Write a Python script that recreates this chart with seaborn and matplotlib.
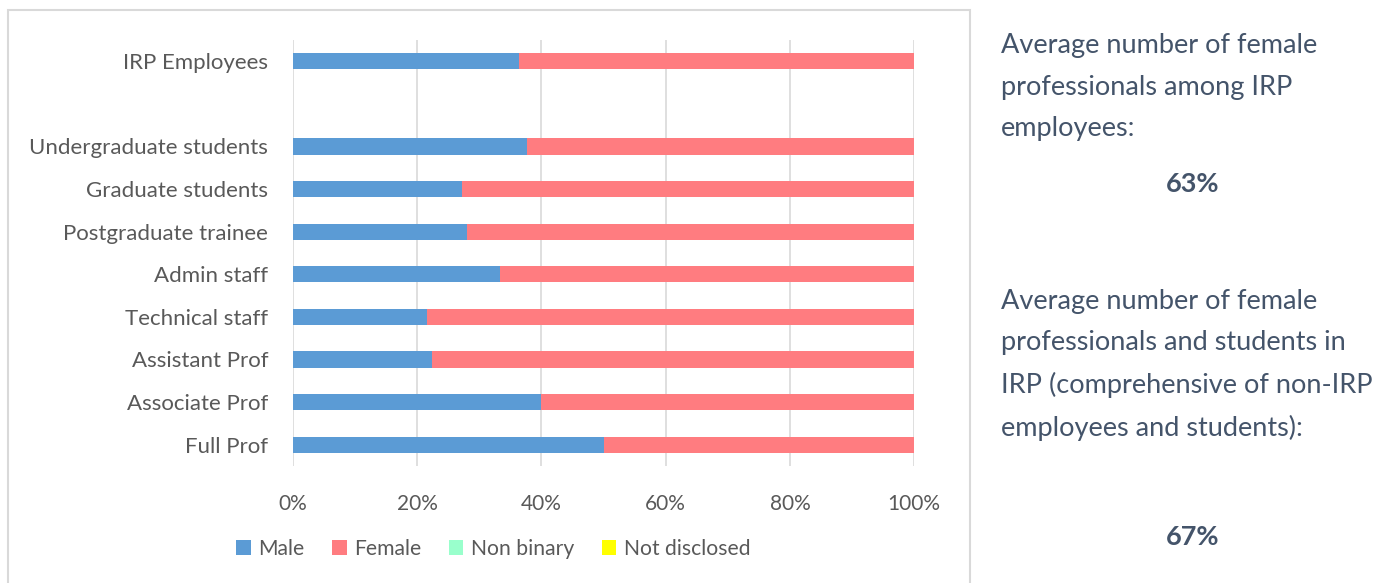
import pandas as pd
import numpy as np
import matplotlib.pyplot as plt
import seaborn as sns
from matplotlib.patches import Patch, Rectangle

# Data (percent of each group)
categories = ['IRP Employees', ' ', 'Undergraduate students', 'Graduate students',
              'Postgraduate trainee', 'Admin staff', 'Technical staff',
              'Assistant Prof', 'Associate Prof', 'Full Prof']
male = [36.4, 0, 37.7, 27.2, 28.0, 33.3, 21.6, 22.4, 40.0, 50.0]
female = [63.6, 0, 62.3, 72.8, 72.0, 66.7, 78.4, 77.6, 60.0, 50.0]
non_binary = [0, 0, 0, 0, 0, 0, 0, 0, 0, 0]
not_disclosed = [0, 0, 0, 0, 0, 0, 0, 0, 0, 0]

series = ['Male', 'Female', 'Non binary', 'Not disclosed']
colors = ['#5B9BD5', '#FF7C80', '#99FFCC', '#FFFF00']
x_ticks = [0, 20, 40, 60, 80, 100]

df = pd.DataFrame({'category': categories, 'Male': male, 'Female': female,
                   'Non binary': non_binary, 'Not disclosed': not_disclosed})
df[series] = df[series].cumsum(axis=1)

sns.set_theme(style='white')
plt.rcParams['font.family'] = ['Lato', 'DejaVu Sans']

fig = plt.figure(figsize=(13.85, 5.83), dpi=100)
ax = fig.add_axes([0.2116, 0.2007, 0.4484, 0.7307])

# stacked bars: draw the cumulative totals from the widest down
for name, col in reversed(list(zip(series, colors))):
    sns.barplot(data=df, x=name, y='category', order=categories, color=col,
                width=0.38, linewidth=0, saturation=1, ax=ax, orient='h')

ax.set_xlim(0, 100)
ax.set_xticks(x_ticks)
ax.set_xticklabels([f'{t}%' for t in x_ticks])
ax.set_xlabel('')
ax.set_ylabel('')
ax.xaxis.grid(True, color='#D9D9D9', linewidth=1.2)
ax.set_axisbelow(True)
for s in ax.spines.values():
    s.set_visible(False)
ax.tick_params(axis='y', length=0, pad=18, labelsize=16, labelcolor='#595959')
ax.tick_params(axis='x', length=0, pad=20, labelsize=15, labelcolor='#595959')

handles = [Patch(facecolor=c, edgecolor='none', label=n) for n, c in zip(series, colors)]
fig.legend(handles=handles, loc='center', bbox_to_anchor=(0.356, 0.058), ncol=4,
           frameon=False, fontsize=15.2, labelcolor='#595959', handlelength=0.7,
           handleheight=0.7, handletextpad=0.35, columnspacing=1.3)

# chart area border
fig.patches.append(Rectangle((8 / 1385, -0.01), 962 / 1385, 1 - 10 / 583 + 0.01,
                             transform=fig.transFigure, fill=False,
                             edgecolor='#D9D9D9', linewidth=1.5))

txt_color = '#44546A'
fig.text(1001 / 1385, 1 - 33 / 583,
         'Average number of female\nprofessionals among IRP\nemployees:',
         ha='left', va='top', fontsize=19.5, color=txt_color, linespacing=1.83)
fig.text(1193 / 1385, 1 - 184 / 583, '63%', ha='center', va='center',
         fontsize=19.5, fontweight='bold', color=txt_color)
fig.text(1001 / 1385, 1 - 289 / 583,
         'Average number of female\nprofessionals and students in\nIRP (comprehensive of non-IRP\nemployees and students):',
         ha='left', va='top', fontsize=19.5, color=txt_color, linespacing=1.8)
fig.text(1193 / 1385, 1 - 537 / 583, '67%', ha='center', va='center',
         fontsize=19.5, fontweight='bold', color=txt_color)

fig.savefig('out.png', dpi=100)
